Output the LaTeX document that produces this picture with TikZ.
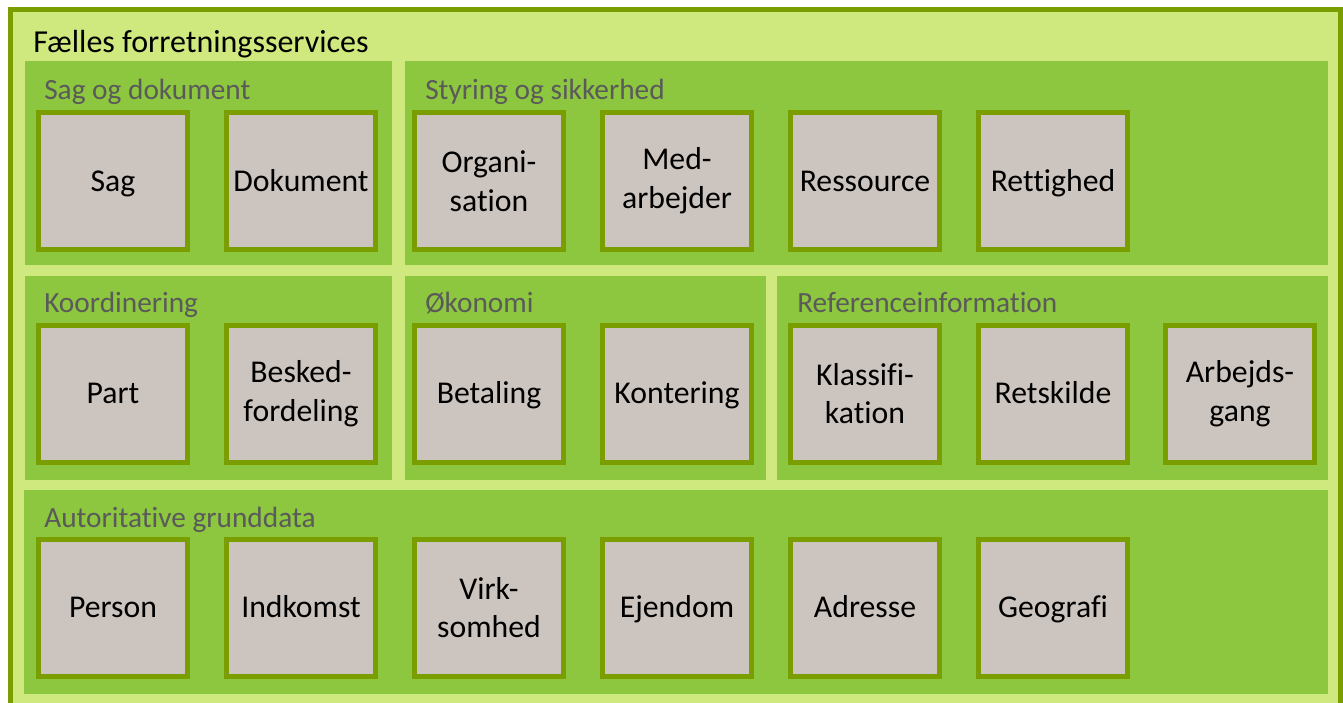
\documentclass[tikz,border=0pt]{standalone}
\usepackage{fontspec}
\setmainfont{Carlito}[Ligatures=NoCommon]
\definecolor{frameLight}{RGB}{207,233,126}
\definecolor{panelGreen}{RGB}{141,198,63}
\definecolor{edgeGreen}{RGB}{122,158,0}
\definecolor{boxFill}{RGB}{204,197,191}
\definecolor{labelGray}{RGB}{90,90,90}

\begin{document}
\begin{tikzpicture}[x=0.75pt,y=-0.75pt,
  panel/.style={fill=panelGreen, anchor=north west, inner sep=0, outer sep=0, minimum height=153pt},
  svc/.style={draw=edgeGreen, fill=boxFill, line width=3.75pt, minimum width=111.75pt,
    minimum height=102.75pt, inner sep=0, align=center, font=\fontsize{23.8}{29}\selectfont},
  one/.style={svc, text height=15.3pt, text depth=0pt},
  plabel/.style={anchor=base west, text=labelGray, font=\fontsize{22}{26}\selectfont, inner sep=0},
  title/.style={anchor=base west, text=black, font=\fontsize{24}{28}\selectfont, inner sep=0}]

\useasboundingbox (0,0) rectangle (1343,703);
\clip (0,0) rectangle (1343,703);

% outer frame
\draw[edgeGreen, fill=frameLight, line width=3.75pt] (10.5,9.5) rectangle (1340.5,730);
\node[title] (ttl) at (33,52) {Fælles forretningsservices};

% group panels
\node[panel, minimum width=275.25pt] (pSag) at (25,61) {};
\node[panel, minimum width=692.25pt] (pSty) at (405,61) {};
\node[panel, minimum width=275.25pt] (pKoo) at (25,276) {};
\node[panel, minimum width=270.75pt] (pOko) at (405,276) {};
\node[panel, minimum width=413.25pt] (pRef) at (777,276) {};
\node[panel, minimum width=978pt] (pAut) at (24,490) {};

% group labels
\node[plabel] (lSag) at (44,99) {Sag og dokument};
\node[plabel] (lSty) at (425,99) {Styring og sikkerhed};
\node[plabel] (lKoo) at (44,312) {Koordinering};
\node[plabel] (lOko) at (425,312) {Økonomi};
\node[plabel] (lRef) at (797,312) {Referenceinformation};
\node[plabel] (lAut) at (44,527) {Autoritative grunddata};

% services, first row
\node[one] (sag) at (113,181) {Sag};
\node[one] (dok) at (301,181) {Dokument};
\node[svc] (org) at (489,181) {Organi-\\sation};
\node[svc] (med) at (677,181) {Med-\\arbejder};
\node[one] (res) at (865,181) {Ressource};
\node[one] (ret) at (1053,181) {Rettighed};

% services, second row
\node[one] (part) at (113,393.5) {Part};
\node[svc] (besk) at (301,393.5) {Besked-\\fordeling};
\node[one] (bet) at (489,393.5) {Betaling};
\node[one] (kont) at (677,393.5) {Kontering};
\node[svc] (klas) at (865,393.5) {Klassifi-\\kation};
\node[one] (rets) at (1053,393.5) {Retskilde};
\node[svc] (arb) at (1240,393.5) {Arbejds-\\gang};

% services, third row
\node[one] (pers) at (113,607.5) {Person};
\node[one] (indk) at (301,607.5) {Indkomst};
\node[svc] (virk) at (489,607.5) {Virk-\\somhed};
\node[one] (ejd) at (677,607.5) {Ejendom};
\node[one] (adr) at (865,607.5) {Adresse};
\node[one] (geo) at (1053,607.5) {Geografi};
\end{tikzpicture}
\end{document}
